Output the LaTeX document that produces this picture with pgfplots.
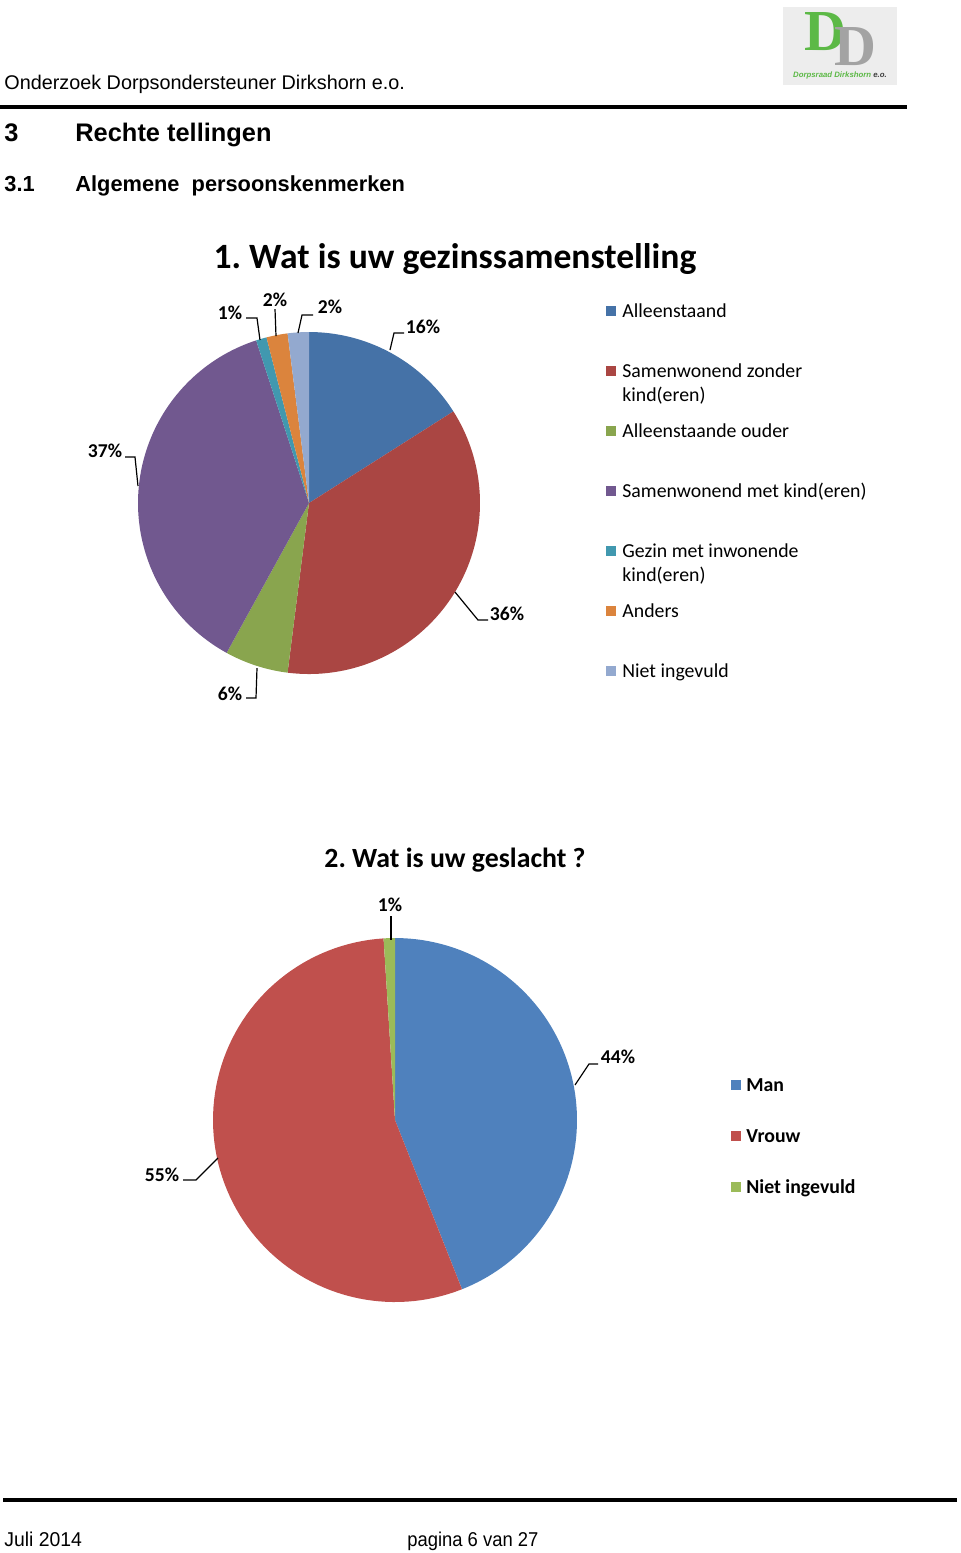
\documentclass[border=0pt]{standalone}
\usepackage{pgfplots}
\pgfplotsset{compat=1.18}
\usepackage{fontspec}
\setmainfont{Carlito}
\newfontfamily\arial{Liberation Sans}
\newfontfamily\logoserif{Liberation Serif}
\definecolor{cA}{HTML}{4572A7}
\definecolor{cB}{HTML}{AA4643}
\definecolor{cC}{HTML}{89A54E}
\definecolor{cD}{HTML}{71588F}
\definecolor{cE}{HTML}{4198AF}
\definecolor{cF}{HTML}{DB843D}
\definecolor{cG}{HTML}{93A9CF}
\definecolor{mA}{HTML}{4F81BD}
\definecolor{mB}{HTML}{C0504D}
\definecolor{mC}{HTML}{9BBB59}
\definecolor{logogreen}{HTML}{5CB946}
\definecolor{logogray}{HTML}{A3A3A3}
% cx cy r colour start% end%  (cumulative percentages)
\newcommand{\pieslice}[6]{\addplot[fill=#4, draw=none, domain={#5*3.6}:{#6*3.6}, samples=90, variable=\t, forget plot] ({#1+#3*sin(\t)},{#2-#3*cos(\t)}) -- (axis cs:#1,#2) -- cycle;}
\newcommand{\fs}[1]{\fontsize{#1}{#1}\selectfont}
\frenchspacing
\begin{document}
\begin{tikzpicture}
\begin{axis}[x=0.5pt, y=0.5pt, xmin=0, xmax=960, ymin=0, ymax=1553, y dir=reverse,
  hide axis, scale only axis, clip=false, anchor=north west, at={(0,0)}]
% ---------- page header ----------
\begin{scope}[every node/.style={anchor=base west, inner sep=0pt}]
\node[font=\arial\fs{9.9}] at (axis cs:4,89) {Onderzoek Dorpsondersteuner Dirkshorn e.o.};
\node[font=\arial\bfseries\fs{12.7}] at (axis cs:4,141) {3};
\node[font=\arial\bfseries\fs{12.7}] at (axis cs:75,141) {Rechte tellingen};
\node[font=\arial\bfseries\fs{10.9}] at (axis cs:4,191) {3.1};
\node[font=\arial\bfseries\fs{10.9}] at (axis cs:75,191) {Algemene\ \ persoonskenmerken};
\end{scope}
\draw[line width=2pt] (axis cs:0,107) -- (axis cs:907,107);
% logo
\fill[black!7] (axis cs:783,7) rectangle (axis cs:897,85);
\node[anchor=base west, inner sep=0pt, font=\logoserif\bfseries\fs{29}] at (axis cs:804,50)
  {\textcolor{logogreen}{D}\kern-6pt\raisebox{-7.5pt}{\textcolor{logogray}{D}}};
\node[anchor=base, inner sep=0pt, font=\arial\bfseries\itshape\fs{3.9}, text=logogreen] at (axis cs:840,77) {Dorpsraad Dirkshorn \textcolor{black!75}{e.o.}};
% ---------- chart 1 ----------
\node[font=\bfseries\fs{17.8}] at (axis cs:455,259) {1. Wat is uw gezinssamenstelling};
\pieslice{309}{503}{171}{cA}{0}{16}
\pieslice{309}{503}{171}{cB}{16}{52}
\pieslice{309}{503}{171}{cC}{52}{58}
\pieslice{309}{503}{171}{cD}{58}{95}
\pieslice{309}{503}{171}{cE}{95}{96}
\pieslice{309}{503}{171}{cF}{96}{98}
\pieslice{309}{503}{171}{cG}{98}{100}
\draw[line width=0.6pt] (axis cs:390,350) -- (axis cs:394,333) -- (axis cs:404,333);
\draw[line width=0.6pt] (axis cs:455,592) -- (axis cs:478,620) -- (axis cs:488,620);
\draw[line width=0.6pt] (axis cs:257,668) -- (axis cs:256,698) -- (axis cs:246,698);
\draw[line width=0.6pt] (axis cs:138,486) -- (axis cs:135,457) -- (axis cs:125,457);
\draw[line width=0.6pt] (axis cs:260,340) -- (axis cs:257,318) -- (axis cs:246,318);
\draw[line width=0.6pt] (axis cs:276,336) -- (axis cs:275,309);
\draw[line width=0.6pt] (axis cs:298,333) -- (axis cs:302,315) -- (axis cs:313,315);
\begin{scope}[every node/.style={font=\bfseries\fs{9.8}}]
\node at (axis cs:423,327) {16\%};
\node at (axis cs:507,614) {36\%};
\node at (axis cs:230,694) {6\%};
\node at (axis cs:105,451) {37\%};
\node at (axis cs:230,313) {1\%};
\node at (axis cs:275,300) {2\%};
\node at (axis cs:330,307) {2\%};
\end{scope}
% legend 1
\begin{scope}[every node/.style={anchor=base west, font=\fs{9.9}, inner sep=0pt}]
\fill[cA] (axis cs:606,306) rectangle (axis cs:616,316);
\node at (axis cs:622,317) {Alleenstaand};
\fill[cB] (axis cs:606,366) rectangle (axis cs:616,376);
\node at (axis cs:622,377) {Samenwonend zonder};
\node at (axis cs:622,401) {kind(eren)};
\fill[cC] (axis cs:606,426) rectangle (axis cs:616,436);
\node at (axis cs:622,437) {Alleenstaande ouder};
\fill[cD] (axis cs:606,486) rectangle (axis cs:616,496);
\node at (axis cs:622,497) {Samenwonend met kind(eren)};
\fill[cE] (axis cs:606,546) rectangle (axis cs:616,556);
\node at (axis cs:622,557) {Gezin met inwonende};
\node at (axis cs:622,581) {kind(eren)};
\fill[cF] (axis cs:606,606) rectangle (axis cs:616,616);
\node at (axis cs:622,617) {Anders};
\fill[cG] (axis cs:606,666) rectangle (axis cs:616,676);
\node at (axis cs:622,677) {Niet ingevuld};
\end{scope}
% ---------- chart 2 ----------
\node[font=\bfseries\fs{13.9}] at (axis cs:455,860) {2. Wat is uw geslacht ?};
\pieslice{395}{1120}{182}{mA}{0}{44}
\pieslice{395}{1120}{182}{mB}{44}{99}
\pieslice{395}{1120}{182}{mC}{99}{100}
\draw[line width=0.6pt] (axis cs:391,916) -- (axis cs:391,940);
\draw[line width=0.6pt] (axis cs:575,1085) -- (axis cs:589,1064) -- (axis cs:598,1064);
\draw[line width=0.6pt] (axis cs:218,1158) -- (axis cs:196,1180) -- (axis cs:183,1180);
\begin{scope}[every node/.style={font=\bfseries\fs{9.8}}]
\node at (axis cs:390,905) {1\%};
\node at (axis cs:618,1057) {44\%};
\node at (axis cs:162,1175) {55\%};
\end{scope}
\begin{scope}[every node/.style={anchor=base west, font=\bfseries\fs{9.9}, inner sep=0pt}]
\fill[mA] (axis cs:731,1080) rectangle (axis cs:741,1090);
\node at (axis cs:746,1091) {Man};
\fill[mB] (axis cs:731,1131) rectangle (axis cs:741,1141);
\node at (axis cs:746,1142) {Vrouw};
\fill[mC] (axis cs:731,1182) rectangle (axis cs:741,1192);
\node at (axis cs:746,1193) {Niet ingevuld};
\end{scope}
% ---------- footer ----------
\draw[line width=2.4pt] (axis cs:3,1500) -- (axis cs:957,1500);
\node[anchor=base west, inner sep=0pt, font=\arial\fs{10}] at (axis cs:4,1546) {\scalebox{0.97}[1]{Juli 2014}};
\node[anchor=base west, inner sep=0pt, font=\arial\fs{10}] at (axis cs:407,1546) {\scalebox{0.92}[1]{pagina 6 van 27}};
\end{axis}
\pgfresetboundingbox
\path (0,0) rectangle (480pt,-776.5pt);
\end{tikzpicture}
\end{document}
